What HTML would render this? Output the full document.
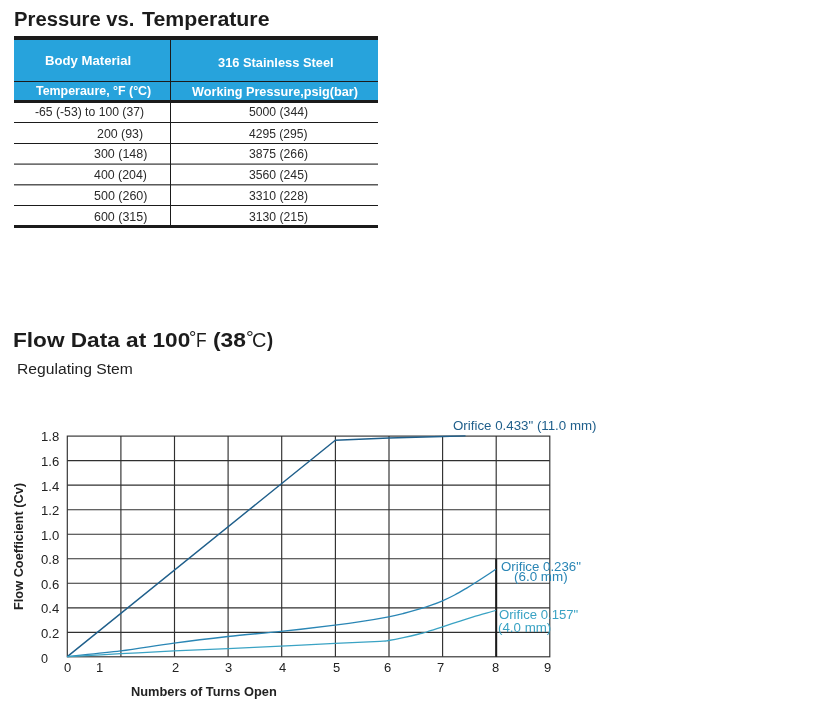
<!DOCTYPE html>
<html lang="en">
<head>
<meta charset="utf-8">
<title>Pressure vs. Temperature</title>
<style>
html,body{margin:0;padding:0;background:#fff;}
body{width:836px;height:703px;position:relative;overflow:hidden;font-family:"Liberation Sans",sans-serif;color:#1a1a1a;}
.t{position:absolute;white-space:nowrap;line-height:1;transform-origin:0 0;margin:0;font-weight:normal;}
.b{font-weight:bold;}
.hdr{position:absolute;left:14px;top:37px;width:364px;height:65px;background:#27a3dc;}
.hl{position:absolute;background:#1b1b1b;}
svg{position:absolute;left:0;top:400px;}
</style>
</head>
<body>

<h1 style="margin:0"><span class="t b" id="t1a" style="left:14.18px;top:9.40px;transform:scaleX(1.0122);font-size:20px;color:#1c1c1c;">Pressure vs.</span><span class="t b" id="t1b" style="left:141.90px;top:9.40px;transform:scaleX(1.0656);font-size:20px;color:#1c1c1c;">Temperature</span></h1>
<div class="hdr"></div>
<div class="hl" style="left:14px;top:36px;width:364px;height:4px;"></div>
<div class="hl" style="left:14px;top:80.5px;width:364px;height:1.2px;"></div>
<div class="hl" style="left:14px;top:99.5px;width:364px;height:3.5px;"></div>
<div class="hl" style="left:14px;top:121.6px;width:364px;height:1.2px;"></div>
<div class="hl" style="left:14px;top:142.6px;width:364px;height:1.2px;"></div>
<div class="hl" style="left:14px;top:163px;width:364px;height:1px;background:#9a9a9a;"></div>
<div class="hl" style="left:14px;top:164px;width:364px;height:1px;background:#707070;"></div>
<div class="hl" style="left:14px;top:184px;width:364px;height:1px;background:#5a5a5a;"></div>
<div class="hl" style="left:14px;top:185px;width:364px;height:1px;background:#a8a8a8;"></div>
<div class="hl" style="left:14px;top:204.9px;width:364px;height:1.2px;"></div>
<div class="hl" style="left:14px;top:225px;width:364px;height:2.6px;"></div>
<div class="hl" style="left:170.2px;top:38px;width:1.3px;height:188px;"></div>

<div class="t b" id="h1" style="left:44.92px;top:54.80px;transform:scaleX(1.0960);font-size:12px;color:#fff;">Body Material</div>
<div class="t b" id="h2" style="left:217.77px;top:57.00px;transform:scaleX(1.0696);font-size:12px;color:#fff;">316 Stainless Steel</div>
<div class="t b" id="h3" style="left:36.40px;top:84.60px;transform:scaleX(0.9930);font-size:12.5px;color:#fff;">Temperaure, &deg;F (&deg;C)</div>
<div class="t b" id="h4" style="left:192.15px;top:85.60px;transform:scaleX(1.0137);font-size:12.5px;color:#fff;">Working Pressure,psig(bar)</div>
<div class="t" id="r1a" style="left:34.59px;top:106.00px;transform:scaleX(1.0152);font-size:12px;color:#2a2a2a;">-65 (-53) to 100 (37)</div>
<div class="t" id="r2a" style="left:97.35px;top:127.50px;transform:scaleX(1.0319);font-size:12px;color:#2a2a2a;">200 (93)</div>
<div class="t" id="r3a" style="left:93.76px;top:148.30px;transform:scaleX(1.0395);font-size:12px;color:#2a2a2a;">300 (148)</div>
<div class="t" id="r4a" style="left:94.21px;top:169.00px;transform:scaleX(1.0306);font-size:12px;color:#2a2a2a;">400 (204)</div>
<div class="t" id="r5a" style="left:93.71px;top:190.30px;transform:scaleX(1.0406);font-size:12px;color:#2a2a2a;">500 (260)</div>
<div class="t" id="r6a" style="left:93.81px;top:210.70px;transform:scaleX(1.0386);font-size:12px;color:#2a2a2a;">600 (315)</div>
<div class="t" id="r1b" style="left:248.52px;top:106.00px;transform:scaleX(1.0172);font-size:12px;color:#2a2a2a;">5000 (344)</div>
<div class="t" id="r2b" style="left:249.02px;top:127.50px;transform:scaleX(1.0086);font-size:12px;color:#2a2a2a;">4295 (295)</div>
<div class="t" id="r3b" style="left:248.58px;top:148.30px;transform:scaleX(1.0162);font-size:12px;color:#2a2a2a;">3875 (266)</div>
<div class="t" id="r4b" style="left:248.58px;top:169.00px;transform:scaleX(1.0162);font-size:12px;color:#2a2a2a;">3560 (245)</div>
<div class="t" id="r5b" style="left:248.58px;top:190.30px;transform:scaleX(1.0162);font-size:12px;color:#2a2a2a;">3310 (228)</div>
<div class="t" id="r6b" style="left:248.58px;top:210.70px;transform:scaleX(1.0162);font-size:12px;color:#2a2a2a;">3130 (215)</div>
<h2 style="margin:0"><span class="t b" id="t2a" style="left:12.59px;top:329.70px;transform:scaleX(1.1307);font-size:20px;color:#1c1c1c;">Flow Data at 100</span><span class="t" id="t2b" style="left:188.51px;top:329.20px;transform:scaleX(1.0723);font-size:17px;color:#1c1c1c;">&deg;</span><span class="t" id="t2c" style="left:195.57px;top:329.70px;transform:scaleX(0.8698);font-size:20px;color:#1c1c1c;">F</span><span class="t b" id="t2d" style="left:213.34px;top:329.70px;transform:scaleX(1.1405);font-size:20px;color:#1c1c1c;">(38</span><span class="t" id="t2e" style="left:245.65px;top:329.20px;transform:scaleX(1.1367);font-size:17px;color:#1c1c1c;">&deg;</span><span class="t" id="t2f" style="left:252.24px;top:329.70px;transform:scaleX(0.9965);font-size:20px;color:#1c1c1c;">C</span><span class="t b" id="t2g" style="left:266.70px;top:329.70px;transform:scaleX(0.9221);font-size:20px;color:#1c1c1c;">)</span></h2>
<div class="t" id="sub" style="left:17.46px;top:361.50px;transform:scaleX(1.1195);font-size:14px;color:#222;">Regulating Stem</div>
<svg width="836" height="303" viewBox="0 400 836 303">
<g stroke="#303030" stroke-width="1.15" fill="none">
<rect x="67.3" y="436.1" width="482.5" height="220.7"/>
<path d="M67.3 460.6H549.8M67.3 485.1H549.8M67.3 509.7H549.8M67.3 534.2H549.8M67.3 558.7H549.8M67.3 583.2H549.8M67.3 607.8H549.8M67.3 632.3H549.8"/>
<path d="M120.9 436.1V656.8M174.5 436.1V656.8M228.1 436.1V656.8M281.7 436.1V656.8M335.4 436.1V656.8M389.0 436.1V656.8M442.6 436.1V656.8M496.2 436.1V656.8"/>
</g>
<path d="M496.2 558.7V656.8" stroke="#1a1a1a" stroke-width="2.0" fill="none"/>
<path d="M67.3 656.6L335.3 440.2L388.9 438L442.5 436.5L465.5 435.9" stroke="#1f5f8b" stroke-width="1.45" fill="none" stroke-linejoin="round"/>
<path d="M67.3 656.6C76.2 655.6 102.8 653.1 120.6 650.9C138.4 648.6 156.1 645.5 174.0 643.1C191.9 640.7 210.2 638.5 228.0 636.5C245.8 634.5 263.2 633.3 281.0 631.4C298.8 629.5 321.5 626.9 335.0 625.2C348.5 623.5 353.1 622.8 362.0 621.4C370.9 620.0 381.7 618.1 388.6 616.8C395.5 615.5 398.2 614.8 403.3 613.5C408.4 612.2 414.2 610.6 418.9 609.2C423.6 607.8 427.4 606.6 431.3 605.2C435.2 603.8 438.6 602.5 442.5 600.8C446.4 599.1 450.5 597.2 454.6 595.0C458.7 592.8 463.7 589.8 467.1 587.8C470.5 585.8 471.8 585.0 474.9 583.0C478.0 581.0 482.2 578.3 485.7 576.0C489.2 573.7 494.1 570.4 495.8 569.3" stroke="#2a86b5" stroke-width="1.35" fill="none"/>
<path d="M67.3 656.6C76.2 656.1 102.8 654.7 120.6 653.7C138.4 652.8 156.1 651.8 174.0 650.9C191.9 650.0 210.2 649.4 228.0 648.6C245.8 647.8 263.2 647.1 281.0 646.2C298.8 645.3 318.5 644.1 335.0 643.3C351.5 642.5 371.1 641.8 380.0 641.3C388.9 640.8 384.7 641.1 388.6 640.5C392.5 639.9 398.2 638.8 403.3 637.7C408.4 636.6 415.0 635.0 418.9 634.0C422.8 633.0 422.7 633.2 426.6 632.0C430.5 630.8 437.3 628.5 442.5 626.8C447.7 625.1 452.6 623.5 457.7 621.9C462.8 620.2 466.9 618.8 473.3 616.9C479.7 615.0 492.1 611.6 495.8 610.5" stroke="#3aa3c4" stroke-width="1.3" fill="none"/>
</svg>
<div class="t" id="y18" style="left:40.98px;top:430.60px;transform:scaleX(1.0900);font-size:12px;color:#222;">1.8</div>
<div class="t" id="y16" style="left:41.01px;top:456.02px;transform:scaleX(1.0900);font-size:12px;color:#222;">1.6</div>
<div class="t" id="y14" style="left:40.89px;top:480.54px;transform:scaleX(1.0900);font-size:12px;color:#222;">1.4</div>
<div class="t" id="y12" style="left:41.00px;top:505.07px;transform:scaleX(1.0900);font-size:12px;color:#222;">1.2</div>
<div class="t" id="y10" style="left:40.94px;top:529.59px;transform:scaleX(1.0900);font-size:12px;color:#222;">1.0</div>
<div class="t" id="y08" style="left:41.20px;top:554.11px;transform:scaleX(1.0900);font-size:12px;color:#222;">0.8</div>
<div class="t" id="y06" style="left:41.23px;top:578.63px;transform:scaleX(1.0900);font-size:12px;color:#222;">0.6</div>
<div class="t" id="y04" style="left:41.12px;top:603.15px;transform:scaleX(1.0900);font-size:12px;color:#222;">0.4</div>
<div class="t" id="y02" style="left:41.22px;top:627.68px;transform:scaleX(1.0900);font-size:12px;color:#222;">0.2</div>
<div class="t" id="y0" style="left:40.70px;top:652.50px;transform:scaleX(1.0500);font-size:12px;color:#222;">0</div>
<div class="t" id="x0" style="left:64.35px;top:661.50px;transform:scaleX(1.0800);font-size:12px;color:#222;">0</div>
<div class="t" id="x1" style="left:95.53px;top:661.50px;transform:scaleX(1.0800);font-size:12px;color:#222;">1</div>
<div class="t" id="x2" style="left:172.31px;top:661.50px;transform:scaleX(1.0800);font-size:12px;color:#222;">2</div>
<div class="t" id="x3" style="left:224.70px;top:661.50px;transform:scaleX(1.0800);font-size:12px;color:#222;">3</div>
<div class="t" id="x4" style="left:278.83px;top:661.50px;transform:scaleX(1.0800);font-size:12px;color:#222;">4</div>
<div class="t" id="x5" style="left:332.70px;top:661.50px;transform:scaleX(1.0800);font-size:12px;color:#222;">5</div>
<div class="t" id="x6" style="left:384.33px;top:661.50px;transform:scaleX(1.0800);font-size:12px;color:#222;">6</div>
<div class="t" id="x7" style="left:436.53px;top:661.50px;transform:scaleX(1.0800);font-size:12px;color:#222;">7</div>
<div class="t" id="x8" style="left:491.99px;top:661.50px;transform:scaleX(1.0800);font-size:12px;color:#222;">8</div>
<div class="t" id="x9" style="left:544.31px;top:661.50px;transform:scaleX(1.0800);font-size:12px;color:#222;">9</div>
<div class="t b" id="xt" style="left:131.49px;top:686.00px;transform:scaleX(1.0686);font-size:12px;color:#222;">Numbers of Turns Open</div>
<div class="t b" id="yt" style="left:13.00px;top:609.71px;transform:rotate(-90deg) scaleX(1.0644);font-size:12px;color:#222;">Flow Coefficient (Cv)</div>
<div class="t" id="o1" style="left:453.35px;top:419.60px;transform:scaleX(1.0647);font-size:12.5px;color:#1f5f8b;">Orifice 0.433&quot; (11.0 mm)</div>
<div class="t" id="o2a" style="left:500.53px;top:561.20px;transform:scaleX(1.1061);font-size:12px;color:#2a86b5;">Orifice 0.236&quot;</div>
<div class="t" id="o2b" style="left:513.60px;top:571.00px;transform:scaleX(1.1189);font-size:12px;color:#2a86b5;">(6.0 mm)</div>
<div class="t" id="o3a" style="left:498.62px;top:608.80px;transform:scaleX(1.0968);font-size:12px;color:#3aa3c4;">Orifice 0.157&quot;</div>
<div class="t" id="o3b" style="left:498.39px;top:622.00px;transform:scaleX(1.1103);font-size:12px;color:#3aa3c4;">(4.0 mm)</div>
</body>
</html>
